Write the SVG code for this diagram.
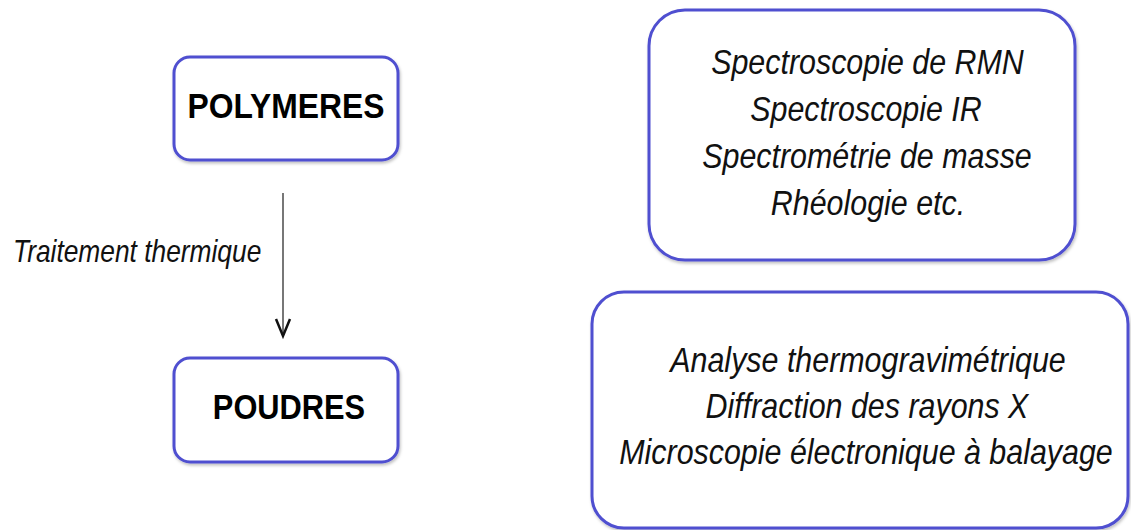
<svg xmlns="http://www.w3.org/2000/svg" width="1131" height="530" viewBox="0 0 1131 530">
<style>
.box{fill:#ffffff;stroke:#4f4fd0;stroke-width:3}
.bold{font-family:"Liberation Sans",Arial,sans-serif;font-weight:bold;font-size:35px;fill:#000;text-anchor:middle}
.it{font-family:"Liberation Sans",Arial,sans-serif;font-style:italic;font-size:36px;fill:#111;text-anchor:middle}
.lbl{font-family:"Liberation Sans",Arial,sans-serif;font-style:italic;font-size:31px;fill:#111}
</style>
<defs>
<filter id="sh" x="-5%" y="-5%" width="110%" height="115%">
<feDropShadow dx="1" dy="2" stdDeviation="1.5" flood-color="#000" flood-opacity="0.25"/>
</filter>
</defs>
<rect width="1131" height="530" fill="#ffffff"/>
<g id="polymeres">
<rect class="box" x="174" y="57" width="224" height="103" rx="16" filter="url(#sh)"/>
<text class="bold" transform="translate(286 118) scale(0.91 1)">POLYMERES</text>
</g>
<g id="poudres">
<rect class="box" x="174" y="358" width="224" height="104" rx="16" filter="url(#sh)"/>
<text class="bold" transform="translate(289 419) scale(0.88 1)">POUDRES</text>
</g>
<g id="caracterisation-polymeres">
<rect class="box" x="649" y="10" width="426" height="250" rx="36" filter="url(#sh)"/>
<text class="it" transform="translate(867.5 74) scale(0.845 1)">Spectroscopie de RMN</text>
<text class="it" transform="translate(866 121) scale(0.845 1)">Spectroscopie IR</text>
<text class="it" transform="translate(867 168) scale(0.845 1)">Spectrométrie de masse</text>
<text class="it" transform="translate(868 215) scale(0.845 1)">Rhéologie etc.</text>
</g>
<g id="caracterisation-poudres">
<rect class="box" x="592" y="292" width="536" height="236" rx="32" filter="url(#sh)"/>
<text class="it" transform="translate(868 372) scale(0.845 1)">Analyse thermogravimétrique</text>
<text class="it" transform="translate(867 418) scale(0.845 1)">Diffraction des rayons X</text>
<text class="it" transform="translate(866 464) scale(0.845 1)">Microscopie électronique à balayage</text>
</g>
<g id="connectors">
<line x1="283" y1="193" x2="283" y2="336" stroke="#777" stroke-width="2"/>
<polyline points="276,319 283,336 290,319" fill="none" stroke="#111" stroke-width="2.5" stroke-linejoin="miter"/>
<text class="lbl" transform="translate(13 262) scale(0.85 1)">Traitement thermique</text>
</g>
</svg>
